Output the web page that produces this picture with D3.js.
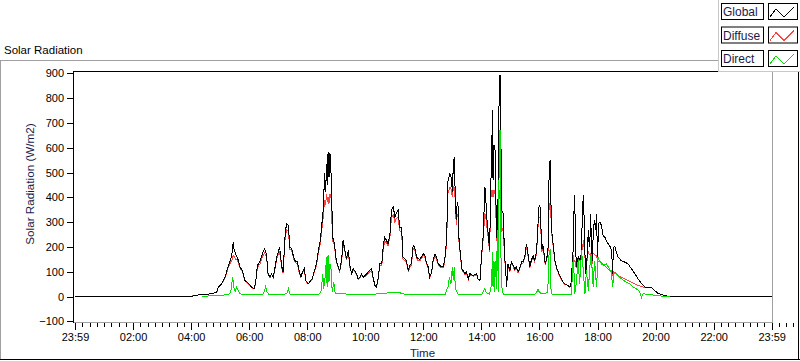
<!DOCTYPE html>
<html><head><meta charset="utf-8">
<script src="https://cdn.jsdelivr.net/npm/d3@7"></script>
<style>
body{margin:0;background:#fff;}
svg{display:block;font-family:"Liberation Sans",Arial,sans-serif;}
</style></head><body>
<svg id="chart" width="800" height="361"></svg>
<script>
// ---- data (minutes after midnight; -1 = 23:59 of previous day) ----
const xTickLabels = ["23:59","02:00","04:00","06:00","08:00","10:00","12:00","14:00","16:00","18:00","20:00","22:00","23:59"];
const yTickValues = [-100,0,100,200,300,400,500,600,700,800,900];
const seriesNames = ["Global","Diffuse","Direct"];
const seriesColors = ["#000000","#ff4040","#00e000"];

const globalTimes = [-1,238,242,245,254,268,281,292,295,302,309,316,321,324,326,328,331,335,340,345,350,357,364,369,372,376,381,386,391,395,398,402,405,409,412,416,419,422,426,429,433,436,440,443,447,450,453,459,462,466,469,473,476,481,484,489,493,498,502,505,508,512,515,517,519,521,522,524,526,528,529,531,534,536,539,543,546,550,553,557,560,564,567,571,574,577,581,584,588,591,595,602,608,612,615,619,622,626,629,633,636,639,643,646,650,653,657,660,663,667,670,674,677,681,684,688,691,694,698,701,705,708,712,719,722,726,729,732,736,739,743,746,750,753,757,760,763,767,770,774,777,779,781,783,784,787,789,791,793,796,798,801,805,808,812,815,822,829,832,836,839,843,846,848,849,853,856,858,860,862,863,865,867,869,870,872,874,876,878,879,881,884,887,889,891,894,898,901,905,908,911,915,918,922,925,929,932,936,939,942,946,949,953,956,958,960,962,964,966,969,971,974,977,979,981,982,985,988,991,994,998,1001,1004,1008,1011,1015,1018,1022,1025,1027,1029,1031,1033,1035,1037,1040,1044,1046,1048,1050,1051,1053,1055,1057,1060,1062,1064,1065,1067,1069,1071,1073,1075,1077,1079,1081,1084,1087,1091,1094,1097,1101,1104,1107,1109,1110,1112,1115,1118,1121,1128,1135,1142,1149,1156,1163,1170,1177,1184,1190,1197,1204,1211,1218,1228,1439];
const globalValues = [0,0,1,3,6,8,11,18,38,51,78,125,152,179,220,186,172,156,119,105,65,54,38,31,51,125,139,172,193,166,92,78,92,78,112,159,179,199,125,98,240,294,287,199,193,166,145,139,105,78,98,112,65,51,58,71,98,132,186,213,267,348,496,420,536,450,583,480,577,500,496,240,226,199,145,119,105,145,226,186,152,186,125,92,112,105,92,71,78,92,78,92,105,112,78,44,38,78,132,132,199,240,226,213,253,348,361,321,334,348,280,280,159,152,145,105,125,132,206,199,159,152,150,172,166,132,119,78,98,145,172,159,132,125,119,119,145,226,469,496,476,420,536,563,469,307,380,361,213,172,112,105,92,98,71,92,85,92,71,65,159,253,442,415,348,253,186,415,563,752,469,610,604,388,280,213,482,890,890,684,348,334,159,119,38,130,105,140,125,110,120,100,112,140,140,165,213,165,120,145,165,145,180,295,361,368,280,190,210,165,132,152,199,509,550,415,250,199,145,119,98,85,71,58,51,48,44,38,58,145,199,408,307,119,145,159,145,199,361,408,334,172,92,145,267,199,253,334,119,199,280,307,267,334,145,294,300,287,240,240,226,213,206,190,150,90,199,200,179,159,145,139,132,112,92,71,51,38,35,38,24,13,8,4,0,0];
const diffuseValues = [0,0,3,5,6,8,11,17,36,50,75,118,140,150,166,160,150,145,115,100,64,52,37,30,50,118,130,160,175,160,90,76,90,76,108,150,170,180,120,95,225,270,265,190,185,160,140,130,100,76,95,108,63,50,56,69,95,125,175,200,250,320,390,370,415,380,400,375,415,400,390,225,215,190,140,115,100,140,210,180,148,178,120,90,108,100,88,69,76,88,75,88,100,105,75,43,37,75,125,125,185,225,215,205,240,320,330,300,315,320,265,260,150,145,140,100,120,125,195,190,152,145,145,165,160,128,115,76,95,140,165,152,128,120,115,115,140,210,420,440,430,400,442,440,420,290,330,330,205,165,108,100,88,94,69,88,82,88,69,63,150,240,334,330,300,240,180,380,428,428,400,428,420,330,260,200,330,420,430,380,260,280,150,115,37,125,100,135,120,105,115,95,108,135,135,158,200,158,115,140,158,140,172,280,320,320,260,180,200,158,128,148,190,374,374,350,240,190,140,115,95,82,69,56,50,47,43,37,56,140,150,145,140,115,140,150,140,180,200,226,200,160,90,140,180,170,170,175,115,170,172,170,165,165,145,140,145,135,128,125,118,110,105,105,100,90,100,98,92,85,78,71,65,58,51,44,40,36,35,38,24,13,8,4,0,0];

const directTimes = [262,268,281,292,302,316,321,323,325,327,330,333,337,340,345,360,386,390,393,396,400,430,437,440,443,460,500,505,508,511,513,516,519,520,522,524,526,528,529,531,534,537,560,600,640,650,670,680,765,767,770,773,776,779,781,783,785,787,791,840,843,846,849,856,858,860,862,863,865,866,868,870,872,874,876,878,879,881,884,950,953,956,958,962,976,979,981,982,985,1020,1025,1029,1032,1035,1039,1042,1046,1049,1053,1056,1060,1063,1066,1070,1073,1077,1080,1084,1087,1091,1097,1104,1108,1110,1113,1118,1125,1132,1139,1146,1152,1159,1166,1170,1173,1187,1201,1214,1228];
const directValues = [0,1,3,4,5,8,18,51,78,38,20,38,20,12,8,6,7,18,40,18,8,9,12,31,10,8,9,11,24,92,30,78,159,40,166,60,132,119,60,20,58,11,10,8,12,18,15,10,10,25,40,78,51,119,65,119,38,24,10,10,20,31,15,10,30,51,179,40,145,20,145,30,267,20,671,671,199,38,10,10,15,31,20,12,15,179,186,40,10,6,10,166,11,51,145,51,186,119,11,105,24,119,172,38,145,38,159,139,132,125,132,112,92,38,92,92,78,65,58,51,38,31,20,-3,11,8,4,1,0];

// ---- drawing ----
const svg = d3.select("#chart");
const W = 800, H = 361;
const plot = {left:73, right:772, top:71, bottom:322};

const x = d3.scaleLinear().domain([-1, 1439]).range([75, 771.7]);
const y = d3.scaleLinear().domain([-100, 900]).range([321.3, 73.3]);

// outer frame
svg.append("rect").attr("x",0).attr("y",0).attr("width",W).attr("height",H).attr("fill","#fff");
svg.append("line").attr("x1",0.5).attr("x2",0.5).attr("y1",60).attr("y2",360).attr("stroke","#a0a0a0");
svg.append("line").attr("x1",0).attr("x2",718).attr("y1",60.5).attr("y2",60.5).attr("stroke","#a0a0a0");
svg.append("line").attr("x1",0).attr("x2",800).attr("y1",359.5).attr("y2",359.5).attr("stroke","#000");
svg.append("line").attr("x1",798.5).attr("x2",798.5).attr("y1",72).attr("y2",360).attr("stroke","#000");

// title
svg.append("text").attr("x",4).attr("y",54).attr("font-size",11.5).attr("fill","#000").text("Solar Radiation");

// plot border: black top/left, grey bottom/right
svg.append("line").attr("x1",plot.left).attr("x2",plot.right).attr("y1",plot.top+0.5).attr("y2",plot.top+0.5).attr("stroke","#000");
svg.append("line").attr("x1",plot.right+0.5).attr("x2",plot.right+0.5).attr("y1",plot.top).attr("y2",plot.bottom+1).attr("stroke","#a0a0a0");
svg.append("line").attr("x1",plot.left).attr("x2",plot.right+1).attr("y1",plot.bottom+0.5).attr("y2",plot.bottom+0.5).attr("stroke","#a0a0a0");
svg.append("line").attr("x1",plot.left+0.5).attr("x2",plot.left+0.5).attr("y1",plot.top).attr("y2",plot.bottom+1).attr("stroke","#000");

// clip
svg.append("clipPath").attr("id","clip").append("rect")
  .attr("x",plot.left+1).attr("y",plot.top+1).attr("width",plot.right-plot.left-1).attr("height",plot.bottom-plot.top-1);

// y axis
const yAxis = d3.axisLeft(y).tickValues(yTickValues).tickSize(6).tickPadding(3).tickFormat(d3.format("d"));
const gy = svg.append("g").attr("transform",`translate(${plot.left},0)`).call(yAxis);
gy.select(".domain").remove();
gy.selectAll("text").attr("font-size",11).attr("fill","#000").attr("font-family","Liberation Sans, Arial, sans-serif");
gy.selectAll("line").attr("stroke","#000").attr("shape-rendering","crispEdges");

// x axis major/minor
const majorTicks = d3.range(0,13).map(i => -1 + i*120);
const minorTicks = d3.range(0,24*8+1).map(i => -1 + i*15).filter(t => (t+1)%120 !== 0);
const xAxisMinor = d3.axisBottom(x).tickValues(minorTicks).tickSize(4).tickFormat("");
const gxm = svg.append("g").attr("transform",`translate(0,${plot.bottom+1})`).call(xAxisMinor);
gxm.select(".domain").remove();
gxm.selectAll("line").attr("stroke","#000").attr("shape-rendering","crispEdges");
const xAxis = d3.axisBottom(x).tickValues(majorTicks).tickSize(7).tickPadding(3).tickFormat((d,i)=>xTickLabels[i]);
const gx = svg.append("g").attr("transform",`translate(0,${plot.bottom+1})`).call(xAxis);
gx.select(".domain").remove();
gx.selectAll("text").attr("font-size",11).attr("fill","#000").attr("font-family","Liberation Sans, Arial, sans-serif");
gx.selectAll("line").attr("stroke","#000").attr("shape-rendering","crispEdges");

// axis titles
svg.append("text").attr("x",(plot.left+plot.right)/2).attr("y",357).attr("text-anchor","middle")
  .attr("font-size",11.5).attr("fill","#1a1a4a").text("Time");
svg.append("text").attr("transform",`translate(34,184) rotate(-90)`).attr("text-anchor","middle")
  .attr("font-size",11.7).attr("fill","#1a1a4a").text("Solar Radiation (W/m2)");

// series
const line = d3.line().x(d=>x(d[0])).y(d=>y(d[1]));
const globalData = globalTimes.map((t,i)=>[t,globalValues[i]]);
const diffuseData = globalTimes.map((t,i)=>[t,diffuseValues[i]]);
const directData = directTimes.map((t,i)=>[t,directValues[i]]);
const gData = svg.append("g").attr("clip-path","url(#clip)");
[[diffuseData,seriesColors[1]],[globalData,seriesColors[0]],[directData,seriesColors[2]]].forEach(([d,c])=>{
  gData.append("path").datum(d).attr("d",line).attr("fill","none").attr("stroke",c)
    .attr("stroke-width",1).attr("shape-rendering","crispEdges");
});

// legend
const lg = svg.append("g");
lg.append("rect").attr("x",718).attr("y",0).attr("width",82).attr("height",72).attr("fill","#fff");
lg.append("line").attr("x1",718.5).attr("x2",718.5).attr("y1",0).attr("y2",72).attr("stroke","#c8c8c8");
lg.append("line").attr("x1",718).attr("x2",800).attr("y1",71.5).attr("y2",71.5).attr("stroke","#c8c8c8");
seriesNames.forEach((name,i)=>{
  const y0 = 3 + i*23.5;
  lg.append("rect").attr("x",721.5).attr("y",y0+0.5).attr("width",42).attr("height",16).attr("fill","#fff").attr("stroke","#000");
  lg.append("text").attr("x",723).attr("y",y0+13).attr("font-size",12).attr("fill","#1a1a4a").text(name);
  lg.append("rect").attr("x",768.5).attr("y",y0+0.5).attr("width",29).attr("height",16).attr("fill","#fff").attr("stroke","#000");
  const zz = [[770,y0+14],[776,y0+6],[784,y0+14],[794,y0+4]];
  lg.append("path").attr("d",d3.line()(zz)).attr("fill","none").attr("stroke",seriesColors[i]).attr("shape-rendering","crispEdges");
});
</script>
</body></html>
